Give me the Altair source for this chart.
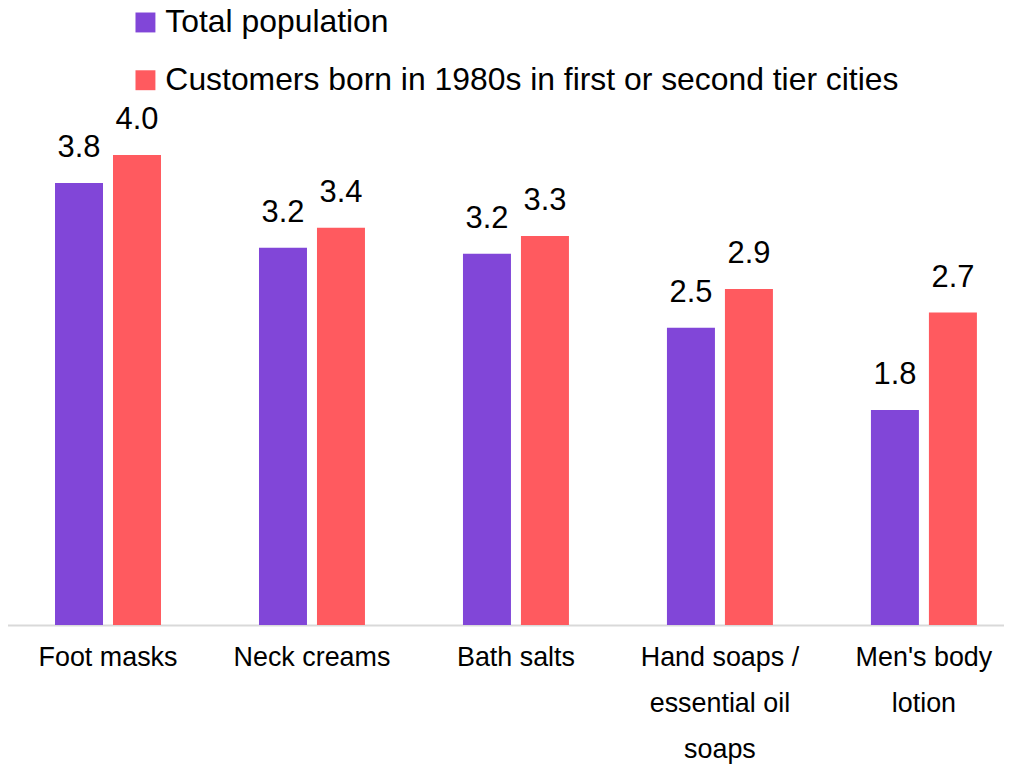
import altair as alt
import pandas as pd

categories = ["Foot masks", "Neck creams", "Bath salts",
              "Hand soaps / essential oil soaps", "Men's body lotion"]
label_lines = {
    "Foot masks": ["Foot masks"],
    "Neck creams": ["Neck creams"],
    "Bath salts": ["Bath salts"],
    "Hand soaps / essential oil soaps": ["Hand soaps /", "essential oil", "soaps"],
    "Men's body lotion": ["Men's body", "lotion"],
}
series = ["Total population",
          "Customers born in 1980s in first or second tier cities"]
total_population = [3.76, 3.21, 3.16, 2.53, 1.83]
born_1980s = [4.0, 3.38, 3.31, 2.86, 2.66]
colors = ["#8146d8", "#ff5a5f"]

rows = []
for i, c in enumerate(categories):
    rows.append({"category": c, "series": series[0], "value": total_population[i]})
    rows.append({"category": c, "series": series[1], "value": born_1980s[i]})
df = pd.DataFrame(rows)

label_expr = ""
for c, lines in label_lines.items():
    esc = c.replace("'", "\\'")
    arr = "[" + ",".join("'" + l.replace("'", "\\'") + "'" for l in lines) + "]"
    label_expr += f"datum.value == '{esc}' ? {arr} : "
label_expr += "datum.label"

FONT = "Liberation Sans"

x = alt.X("category:N", sort=categories, title=None,
          scale=alt.Scale(range=[-2, 1022], paddingInner=0, paddingOuter=0),
          axis=alt.Axis(labelAngle=0, labelFontSize=27, labelFont=FONT,
                        labelColor="#000000", labelPadding=20, ticks=False,
                        domainColor="#d9d9d9", domainWidth=2,
                        labelLineHeight=46, labelExpr=label_expr,
                        labelLimit=0))
y = alt.Y("value:Q", title=None,
          scale=alt.Scale(domain=[0, 5.237], nice=False, zero=True),
          axis=None)
xo = alt.XOffset("series:N", sort=series,
                 scale=alt.Scale(paddingInner=0.1724, paddingOuter=0.845))

bars = alt.Chart(df).mark_bar().encode(
    x=x, y=y, xOffset=xo,
    color=alt.Color("series:N", sort=series,
                    scale=alt.Scale(domain=series, range=colors),
                    legend=alt.Legend(title=None, orient="none", legendX=122,
                                      legendY=-3, direction="vertical",
                                      symbolType="square", symbolSize=400,
                                      symbolStrokeWidth=0, labelFontSize=32,
                                      labelFont=FONT, labelColor="#000000",
                                      labelOffset=4, rowPadding=26,
                                      labelLimit=0)),
)

labels = alt.Chart(df).mark_text(
    dy=-26, baseline="alphabetic", fontSize=31, font=FONT, color="#000000"
).encode(
    x=x, y=y, xOffset=xo,
    text=alt.Text("value:Q", format=".1f"),
)

chart = alt.layer(bars, labels).properties(
    width=1000, height=618,
    autosize=alt.AutoSizeParams(type="none"),
    padding={"left": 0, "right": 0, "top": 0, "bottom": 142},
    background="#ffffff",
).configure_view(stroke=None)

chart.save("out.html", embed_options={"renderer": "svg", "actions": False})
